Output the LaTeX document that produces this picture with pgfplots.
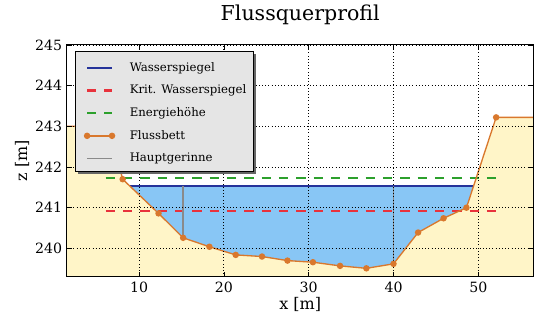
\documentclass[border=0pt]{standalone}
\usepackage{pgfplots}
\pgfplotsset{compat=1.18}
\usepackage{fontspec}
\setmainfont{DejaVu Serif}
\definecolor{bedfill}{HTML}{FFF5C8}
\definecolor{waterfill}{HTML}{88C6F5}
\definecolor{wsblue}{HTML}{25339A}
\definecolor{kritred}{HTML}{E8323C}
\definecolor{egreen}{HTML}{2CA02C}
\definecolor{bedorange}{HTML}{D9782D}
\definecolor{hgray}{HTML}{8A8A8A}
\newcommand{\legbox}{\pgfpathmoveto{\pgfqpoint{-6.3pt}{-4.5pt}}\pgfpathmoveto{\pgfqpoint{29pt}{6.95pt}}\pgfusepath{discard}}
\pgfplotsset{
  linelegend/.style={legend image code/.code={\legbox\draw[##1] (0pt,0pt) -- (18.7pt,0pt);}},
  dotlegend/.style={legend image code/.code={\legbox\draw[##1, mark indices={1,2}] plot coordinates {(0pt,0pt) (18.7pt,0pt)};}},
}
\begin{document}
\begin{tikzpicture}
\begin{axis}[
  scale only axis,
  at={(0,0)}, anchor=south west,
  width=350pt, height=174pt,
  xmin=1.5, xmax=56.5, ymin=239.3, ymax=245,
  xtick={10,20,30,40,50},
  ytick={240,241,242,243,244,245},
  tick align=inside,
  major tick length=4pt,
  tick style={black, line width=0.5pt},
  grid=major,
  grid style={black, dotted, line width=0.6pt},
  axis line style={black, line width=0.8pt},
  axis on top,
  /pgf/number format/assume math mode=true,
  /pgf/number format/set thousands separator={},
  ticklabel style={font=\fontsize{10.6}{13}\selectfont},
  xlabel={x [m]}, ylabel={z [m]},
  label style={font=\fontsize{12}{14}\selectfont},
  xlabel style={at={(axis description cs:0.5,0)}, anchor=base, yshift=-24.3pt},
  ylabel style={at={(axis description cs:0,0.5)}, anchor=center, yshift=33.7pt},
  title={Flussquerprofil},
  title style={font=\fontsize{15.4}{18}\selectfont, at={(axis description cs:0.5,1)}, anchor=base, yshift=12.2pt},
  legend style={at={(axis description cs:0.017,0.9736)}, anchor=north west,
    fill=black!10, draw=black, line width=0.8pt,
    font=\fontsize{8.8}{10}\selectfont,
    row sep=5.55pt, inner xsep=2.5pt, inner ysep=5.25pt,
    nodes={inner xsep=3pt, inner ysep=0pt, text height=7pt, text depth=2pt},
    cells={anchor=west}},
  legend cell align=left,
  linelegend,
]
% bed fill
\addplot[fill=bedfill, draw=none, forget plot] coordinates {
 (1.5,243) (6.5,243) (8.07,241.70) (12.3,240.86) (15.2,240.26) (18.3,240.04)
 (21.4,239.84) (24.5,239.80) (27.5,239.70) (30.5,239.66) (33.7,239.57)
 (36.8,239.51) (40.0,239.62) (42.9,240.39) (45.9,240.74) (48.6,241.0)
 (52.1,243.22) (56.5,243.22) (56.5,239.3) (1.5,239.3)} -- cycle;
% water fill
\addplot[fill=waterfill, draw=none, forget plot] coordinates {
 (8.92,241.53) (12.3,240.86) (15.2,240.26) (18.3,240.04)
 (21.4,239.84) (24.5,239.80) (27.5,239.70) (30.5,239.66) (33.7,239.57)
 (36.8,239.51) (40.0,239.62) (42.9,240.39) (45.9,240.74) (48.6,241.0)
 (49.44,241.53)} -- cycle;
% water surface
\addplot[wsblue, line width=1.6pt] coordinates {(8.92,241.53) (49.44,241.53)};
\addlegendentry{Wasserspiegel}
\addplot[kritred, line width=1.6pt, dash pattern=on 7pt off 6pt] coordinates {(6.06,240.92) (52.1,240.92)};
\addlegendentry{Krit. Wasserspiegel}
\addplot[egreen, line width=1.6pt, dash pattern=on 7pt off 6pt] coordinates {(6.06,241.72) (52.1,241.72)};
\addlegendentry{Energiehöhe}
\addplot[bedorange, line width=1.0pt, mark=*, mark size=1.9pt,
  mark indices={2,...,17}, dotlegend]
 coordinates {
 (1.5,243) (6.5,243) (8.07,241.70) (12.3,240.86) (15.2,240.26) (18.3,240.04)
 (21.4,239.84) (24.5,239.80) (27.5,239.70) (30.5,239.66) (33.7,239.57)
 (36.8,239.51) (40.0,239.62) (42.9,240.39) (45.9,240.74) (48.6,241.0)
 (52.1,243.22) (56.5,243.22)};
\addlegendentry{Flussbett}
\addplot[hgray, line width=1.0pt] coordinates {(15.2,240.26) (15.2,241.53)};
\addlegendentry{Hauptgerinne}
\addplot[hgray, line width=1.0pt, forget plot] coordinates {(40.0,239.62) (40.0,241.53)};
% legend shadow
\fill[black!60] ([shift={(8.45pt,76.9pt)}]rel axis cs:0,0) rectangle ([shift={(141.85pt,166.9pt)}]rel axis cs:0,0);
\end{axis}
\pgfresetboundingbox
\path (-50.2pt,-33.7pt) rectangle (350.4pt,207.7pt);
\end{tikzpicture}
\end{document}
